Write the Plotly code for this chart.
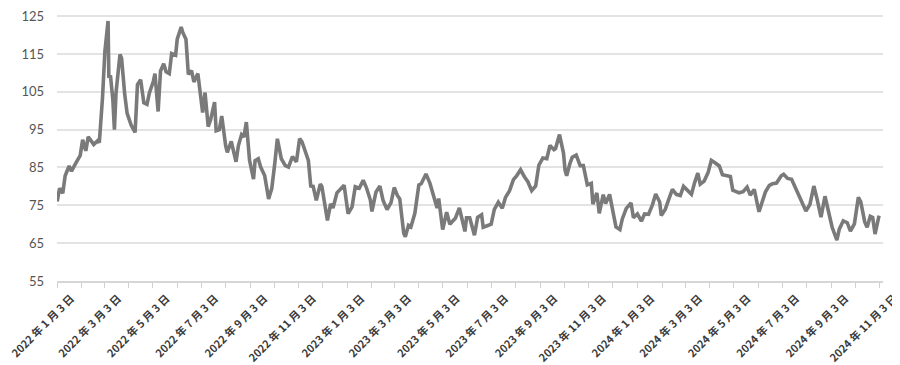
import plotly.graph_objects as go

# WTI-like price series
dates = [
    "2022-01-03","2022-01-06","2022-01-10","2022-01-13","2022-01-18","2022-01-21","2022-01-25","2022-01-28",
    "2022-02-01","2022-02-04","2022-02-08","2022-02-11","2022-02-15","2022-02-18","2022-02-23","2022-02-25",
    "2022-03-01","2022-03-04","2022-03-08","2022-03-09","2022-03-11","2022-03-14","2022-03-16","2022-03-18",
    "2022-03-23","2022-03-25","2022-03-29","2022-04-01","2022-04-06","2022-04-11","2022-04-14","2022-04-18",
    "2022-04-22","2022-04-26","2022-04-29","2022-05-04","2022-05-06","2022-05-10","2022-05-13","2022-05-17",
    "2022-05-20","2022-05-24","2022-05-27","2022-06-01","2022-06-03","2022-06-08","2022-06-10","2022-06-14",
    "2022-06-17","2022-06-21","2022-06-24","2022-06-29","2022-07-05","2022-07-08","2022-07-12","2022-07-15",
    "2022-07-20","2022-07-22","2022-07-26","2022-07-29","2022-08-03","2022-08-05","2022-08-10","2022-08-16",
    "2022-08-19","2022-08-23","2022-08-26","2022-08-29","2022-09-02","2022-09-07","2022-09-09","2022-09-13",
    "2022-09-16","2022-09-21","2022-09-26","2022-09-30","2022-10-04","2022-10-07","2022-10-12","2022-10-17",
    "2022-10-21","2022-10-26","2022-10-31","2022-11-04","2022-11-07","2022-11-11","2022-11-15","2022-11-18",
    "2022-11-21","2022-11-25","2022-11-30","2022-12-02","2022-12-06","2022-12-09","2022-12-13","2022-12-16",
    "2022-12-21","2022-12-27","2022-12-30",
    "2023-01-04","2023-01-09","2023-01-13","2023-01-18","2023-01-23","2023-01-27","2023-02-01","2023-02-03",
    "2023-02-08","2023-02-13","2023-02-17","2023-02-22","2023-02-27","2023-03-03","2023-03-07","2023-03-10",
    "2023-03-15","2023-03-17","2023-03-21","2023-03-24","2023-03-29","2023-04-03","2023-04-06","2023-04-12",
    "2023-04-17","2023-04-21","2023-04-26","2023-04-28","2023-05-03","2023-05-08","2023-05-12","2023-05-16",
    "2023-05-19","2023-05-24","2023-05-31","2023-06-02","2023-06-06","2023-06-12","2023-06-16","2023-06-21",
    "2023-06-23","2023-06-28","2023-07-03","2023-07-07","2023-07-12","2023-07-17","2023-07-21","2023-07-26",
    "2023-07-31","2023-08-04","2023-08-09","2023-08-14","2023-08-18","2023-08-23","2023-08-28","2023-09-01",
    "2023-09-06","2023-09-11","2023-09-15","2023-09-20","2023-09-22","2023-09-27","2023-10-02","2023-10-04",
    "2023-10-06","2023-10-10","2023-10-13","2023-10-18","2023-10-23","2023-10-27","2023-11-01","2023-11-06",
    "2023-11-08","2023-11-13","2023-11-16","2023-11-21","2023-11-24","2023-11-29","2023-12-04","2023-12-07",
    "2023-12-12","2023-12-15","2023-12-20","2023-12-26","2023-12-29",
    "2024-01-03","2024-01-08","2024-01-12","2024-01-17","2024-01-22","2024-01-26","2024-01-31","2024-02-02",
    "2024-02-07","2024-02-12","2024-02-16","2024-02-21","2024-02-26","2024-03-01","2024-03-06","2024-03-11",
    "2024-03-15","2024-03-19","2024-03-22","2024-03-27","2024-04-01","2024-04-05","2024-04-10","2024-04-15",
    "2024-04-19","2024-04-24","2024-04-29","2024-05-02","2024-05-07","2024-05-10","2024-05-15","2024-05-20",
    "2024-05-24","2024-05-29","2024-06-04","2024-06-07","2024-06-12","2024-06-17","2024-06-21","2024-06-26",
    "2024-07-02","2024-07-05","2024-07-10","2024-07-15","2024-07-19","2024-07-24","2024-07-30","2024-08-02",
    "2024-08-07","2024-08-12","2024-08-16","2024-08-21","2024-08-26","2024-08-30","2024-09-04","2024-09-10",
    "2024-09-13","2024-09-18","2024-09-23","2024-09-27","2024-10-02","2024-10-07","2024-10-10","2024-10-15",
    "2024-10-18","2024-10-22","2024-10-25","2024-10-28","2024-11-02",
]
prices = [
    76.0, 79.5, 78.2, 82.8, 85.4, 84.0, 85.6, 86.8,
    88.2, 92.3, 89.4, 93.1, 92.1, 91.1, 92.1, 91.6,
    103.4, 115.7, 123.7, 108.7, 109.3, 103.0, 95.0, 104.7,
    114.9, 113.9, 104.2, 99.3, 96.2, 94.3, 106.9, 108.2,
    102.1, 101.7, 104.7, 107.8, 109.8, 99.8, 110.5, 112.4,
    110.3, 109.8, 115.1, 114.7, 118.9, 122.1, 120.7, 118.9,
    109.6, 110.6, 107.6, 109.8, 99.5, 104.8, 95.8, 97.6,
    102.3, 94.7, 95.0, 98.6, 90.7, 89.0, 91.9, 86.5,
    90.8, 93.7, 93.1, 97.0, 86.9, 81.9, 86.8, 87.3,
    85.1, 82.9, 76.7, 79.5, 86.5, 92.6, 87.3, 85.5,
    85.1, 87.9, 86.5, 92.6, 91.8, 89.0, 86.9, 80.1,
    80.0, 76.3, 80.6, 80.0, 74.3, 71.0, 75.4, 74.3,
    78.3, 79.5, 80.3,
    72.8, 74.6, 79.9, 79.5, 81.6, 79.7, 76.4, 73.4,
    78.5, 80.1, 76.3, 73.9, 75.7, 79.7, 77.6, 76.7,
    67.6, 66.7, 69.7, 69.3, 72.9, 80.4, 80.7, 83.3,
    80.8, 77.9, 74.3, 76.8, 68.6, 73.2, 70.0, 70.9,
    71.6, 74.3, 68.1, 71.7, 71.7, 67.1, 71.8, 72.5,
    69.2, 69.6, 70.0, 73.9, 75.8, 74.2, 77.1, 78.8,
    81.8, 82.8, 84.4, 82.5, 81.3, 78.9, 80.1, 85.6,
    87.5, 87.3, 90.8, 89.7, 90.0, 93.7, 88.8, 84.2,
    82.8, 86.0, 87.7, 88.3, 85.5, 85.5, 80.4, 80.8,
    75.3, 78.3, 72.9, 77.8, 75.5, 77.9, 72.3, 69.3,
    68.6, 71.4, 74.2, 75.6, 71.7,
    72.7, 70.8, 72.7, 72.6, 75.2, 78.0, 75.9, 72.3,
    73.9, 76.9, 79.2, 77.9, 77.6, 80.0, 79.1, 77.9,
    81.0, 83.5, 80.6, 81.4, 83.7, 86.9, 86.2, 85.4,
    83.1, 82.8, 82.6, 79.0, 78.4, 78.3, 78.6, 79.8,
    77.7, 79.2, 73.3, 75.5, 78.5, 80.3, 80.7, 80.9,
    82.8, 83.2, 82.1, 81.9, 80.1, 77.6, 74.7, 73.5,
    75.2, 80.1, 76.7, 71.9, 77.4, 73.6, 69.2, 65.8,
    68.7, 70.9, 70.4, 68.2, 70.1, 77.1, 75.9, 70.6,
    69.2, 72.1, 71.8, 67.4, 72.3,
]

tick_dates = [
    "2022-01-03","2022-03-03","2022-05-03","2022-07-03","2022-09-03","2022-11-03",
    "2023-01-03","2023-03-03","2023-05-03","2023-07-03","2023-09-03","2023-11-03",
    "2024-01-03","2024-03-03","2024-05-03","2024-07-03","2024-09-03","2024-11-03",
]
tick_labels = [
    "2022 年 1 月 3 日","2022 年 3 月 3 日","2022 年 5 月 3 日","2022 年 7 月 3 日","2022 年 9 月 3 日","2022 年 11 月 3 日",
    "2023 年 1 月 3 日","2023 年 3 月 3 日","2023 年 5 月 3 日","2023 年 7 月 3 日","2023 年 9 月 3 日","2023 年 11 月 3 日",
    "2024 年 1 月 3 日","2024 年 3 月 3 日","2024 年 5 月 3 日","2024 年 7 月 3 日","2024 年 9 月 3 日","2024 年 11 月 3 日",
]
minor_tick_dates = [
    "2022-02-03","2022-04-03","2022-06-03","2022-08-03","2022-10-03","2022-12-03",
    "2023-02-03","2023-04-03","2023-06-03","2023-08-03","2023-10-03","2023-12-03",
    "2024-02-03","2024-04-03","2024-06-03","2024-08-03","2024-10-03",
]
y_ticks = [55, 65, 75, 85, 95, 105, 115, 125]

fig = go.Figure()
fig.add_trace(go.Scatter(
    x=dates, y=prices, mode="lines",
    line=dict(color="#7a7a7a", width=3.6),
    showlegend=False, hoverinfo="skip",
))

# the page body adds an 8px margin, so the figure is 8px smaller and margins compensate
fig.update_layout(
    width=892, height=357,
    margin=dict(l=49, r=17, t=7, b=84),
    paper_bgcolor="white", plot_bgcolor="white",
    font=dict(family="Noto Sans CJK SC, Noto Sans, sans-serif"),
)
fig.update_xaxes(
    type="date", automargin=False,
    range=["2022-01-02 18:00", "2024-11-07"],
    tickmode="array", tickvals=tick_dates, ticktext=tick_labels,
    tickangle=-45, ticklabeloverflow="allow",
    ticklabelshift=14, ticklabelstandoff=0,
    tickfont=dict(family="Noto Sans CJK SC", size=10.8, color="#3a3a3a", weight="bold"),
    ticks="outside", ticklen=5, tickcolor="#cfcfcf", tickwidth=1,
    minor=dict(tickmode="array", tickvals=minor_tick_dates, ticks="outside",
               ticklen=5, tickcolor="#cfcfcf", tickwidth=1, showgrid=False),
    showgrid=False, showline=True, linecolor="#d6d6d6", linewidth=2,
    zeroline=False,
)
fig.update_yaxes(
    range=[55, 125.3], automargin=False,
    tickmode="array", tickvals=y_ticks, ticklabeloverflow="allow",
    tickfont=dict(family="Lato, Noto Sans, sans-serif", size=13, color="#555555"),
    showgrid=True, gridcolor="#e3e3e3", gridwidth=2,
    zeroline=False, showline=False, ticks="", ticklabelstandoff=12,
)

fig.write_html("out.html")
